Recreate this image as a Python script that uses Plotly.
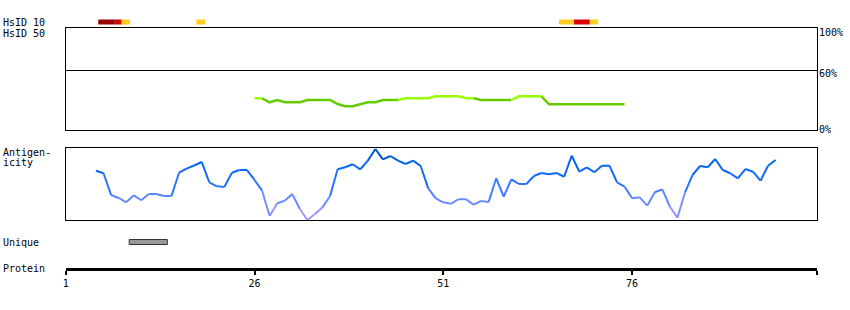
import plotly.graph_objects as go

# ---------------- data ----------------
protein_end = 100.5
tick_vals = [1, 26, 51, 76]
tick_labels = ["1", "26", "51", "76"]

# HsID 10 similarity blocks (residue start/end, level)
hsid10_start = [5.3, 7.5, 8.4, 18.3, 66.3, 68.3, 70.4]
hsid10_end = [7.5, 8.4, 9.5, 19.5, 68.3, 70.4, 71.5]
hsid10_level = ["high", "mid", "low", "low", "low", "mid", "low"]

# Unique region
unique_start = [9.4]
unique_end = [14.45]

# Identity (%) per residue, residues 26..75
identity_first = 26
identity_pct = [
    31.7, 31.7, 27.7, 30.0, 27.7, 27.7, 27.7, 30.0, 30.0, 30.0,
    30.0, 26.0, 23.7, 23.7, 26.0, 27.7, 27.7, 30.0, 30.0, 30.0,
    31.7, 31.7, 31.7, 31.7, 33.7, 33.7, 33.7, 33.7, 31.7, 31.7,
    30.0, 30.0, 30.0, 30.0, 30.0, 33.7, 33.7, 33.7, 33.7, 25.7,
    25.7, 25.7, 25.7, 25.7, 25.7, 25.7, 25.7, 25.7, 25.7, 25.7,
]
identity_threshold = 30.5

# Antigenicity score (0..1) per residue, residues 5..95
antigen_first = 5
antigenicity = [
    0.685, 0.649, 0.347, 0.306, 0.246, 0.343, 0.274, 0.361, 0.361, 0.333,
    0.333, 0.657, 0.713, 0.757, 0.806, 0.524, 0.468, 0.458, 0.657, 0.694,
    0.694, 0.556, 0.407, 0.056, 0.232, 0.268, 0.361, 0.153, 0.000, 0.083,
    0.176, 0.333, 0.704, 0.732, 0.774, 0.704, 0.824, 0.986, 0.843, 0.889,
    0.824, 0.778, 0.824, 0.750, 0.440, 0.301, 0.246, 0.225, 0.288, 0.288,
    0.213, 0.264, 0.250, 0.579, 0.324, 0.565, 0.500, 0.500, 0.611, 0.653,
    0.635, 0.653, 0.601, 0.893, 0.671, 0.732, 0.663, 0.754, 0.754, 0.524,
    0.463, 0.301, 0.315, 0.199, 0.385, 0.426, 0.185, 0.032, 0.379, 0.625,
    0.750, 0.732, 0.847, 0.694, 0.649, 0.579, 0.708, 0.671, 0.546, 0.754,
    0.833,
]

# ---------------- styling ----------------
W, H = 850, 310
FONT = "DejaVu Sans Mono"
X0, X1 = 63 / W, 817 / W
LEVEL_COLORS = {"high": "#990000", "mid": "#dd0000", "low": "#ffcc22"}
GREEN_HI, GREEN_LO = "#99ff00", "#66cc00"
BLUE_STOPS = [
    (0.0, (176, 160, 255)),
    (0.3, (100, 136, 255)),
    (0.55, (30, 110, 255)),
    (0.8, (0, 100, 235)),
    (1.0, (0, 72, 150)),
]


def py(px):
    return 1 - px / H


def blue(v):
    v = max(0.0, min(1.0, v))
    for (a, ca), (b, cb) in zip(BLUE_STOPS[:-1], BLUE_STOPS[1:]):
        if v <= b:
            t = (v - a) / (b - a)
            c = [round(ca[i] + t * (cb[i] - ca[i])) for i in range(3)]
            return "rgb(%d,%d,%d)" % tuple(c)
    return "rgb(%d,%d,%d)" % BLUE_STOPS[-1][1]


fig = go.Figure()

# identity line, colored per run
id_x = [identity_first + i for i in range(len(identity_pct))]
runs = []
for i in range(1, len(identity_pct)):
    col = GREEN_HI if identity_pct[i] > identity_threshold else GREEN_LO
    if runs and runs[-1][0] == col:
        runs[-1][1].append(i)
    else:
        runs.append([col, [i - 1, i]])
for col, idx in runs:
    fig.add_trace(go.Scatter(
        x=[id_x[k] for k in idx], y=[identity_pct[k] for k in idx],
        mode="lines", line=dict(color=col, width=2.5),
        xaxis="x2", yaxis="y", hoverinfo="skip"))

# antigenicity line, colored per segment
ag_x = [antigen_first + i for i in range(len(antigenicity))]
for i in range(1, len(antigenicity)):
    v = (antigenicity[i - 1] + antigenicity[i]) / 2
    fig.add_trace(go.Scatter(
        x=[ag_x[i - 1], ag_x[i]], y=[antigenicity[i - 1], antigenicity[i]],
        mode="lines", line=dict(color=blue(v), width=2),
        xaxis="x3", yaxis="y2", hoverinfo="skip"))

# invisible trace to keep protein axis alive
fig.add_trace(go.Scatter(x=[1, protein_end], y=[None, None], mode="markers",
                         xaxis="x", yaxis="y3", hoverinfo="skip"))

shapes = []
for s, e, lv in zip(hsid10_start, hsid10_end, hsid10_level):
    shapes.append(dict(type="rect", xref="x", yref="paper", x0=s, x1=e,
                       y0=py(24.5), y1=py(19.5), fillcolor=LEVEL_COLORS[lv],
                       line=dict(width=0), layer="above"))
for s, e in zip(unique_start, unique_end):
    shapes.append(dict(type="rect", xref="x", yref="paper", x0=s, x1=e,
                       y0=py(244.5), y1=py(239.5), fillcolor="#999999",
                       line=dict(color="#333333", width=1)))

ann = []


def label(text, x, yc, xanchor="left"):
    ann.append(dict(text=text, x=x / W, y=py(yc), xref="paper", yref="paper",
                    xanchor=xanchor, yanchor="middle", showarrow=False,
                    font=dict(family=FONT, size=10, color="black")))


label("HsID 10", -2, 22.5)
label("HsID 50", -2, 33)
label("Antigen-", -2, 152.5)
label("icity", -2, 162.5)
label("Unique", -2, 242)
label("Protein", -2, 268.5)
label("100%", 817, 32.5)
label("60%", 817, 73)
label("0%", 817, 129.5)

common_x = dict(domain=[X0, X1], range=[1, protein_end], showgrid=False,
                zeroline=False, fixedrange=True)

fig.update_layout(
    width=W, height=H, margin=dict(l=0, r=0, t=0, b=0),
    paper_bgcolor="white", plot_bgcolor="white", showlegend=False,
    xaxis=dict(**common_x, anchor="free", position=py(269), showline=True,
               linewidth=3, linecolor="black", ticks="outside", ticklen=4,
               tickwidth=2, tickcolor="black",
               tickvals=tick_vals + [protein_end], ticktext=tick_labels + [""],
               tickfont=dict(family=FONT, size=10, color="black")),
    xaxis2=dict(**common_x, anchor="y", showline=True, mirror=True,
                linewidth=1, linecolor="black", showticklabels=False, ticks=""),
    xaxis3=dict(**common_x, anchor="y2", showline=True, mirror=True,
                linewidth=1, linecolor="black", showticklabels=False, ticks=""),
    yaxis=dict(domain=[py(130), py(28)], range=[0, 102], anchor="x2",
               showline=True, mirror=True, linewidth=1, linecolor="black",
               showticklabels=False, ticks="", tickvals=[60], showgrid=True,
               gridcolor="black", gridwidth=1, zeroline=False, fixedrange=True),
    yaxis2=dict(domain=[py(220), py(148)], range=[0, 1], anchor="x3",
                showline=True, mirror=True, linewidth=1, linecolor="black",
                showticklabels=False, ticks="", showgrid=False, zeroline=False,
                fixedrange=True),
    yaxis3=dict(domain=[py(270), py(268)], visible=False, anchor="x",
                fixedrange=True),
    shapes=shapes, annotations=ann,
)

fig.write_html("out.html")
